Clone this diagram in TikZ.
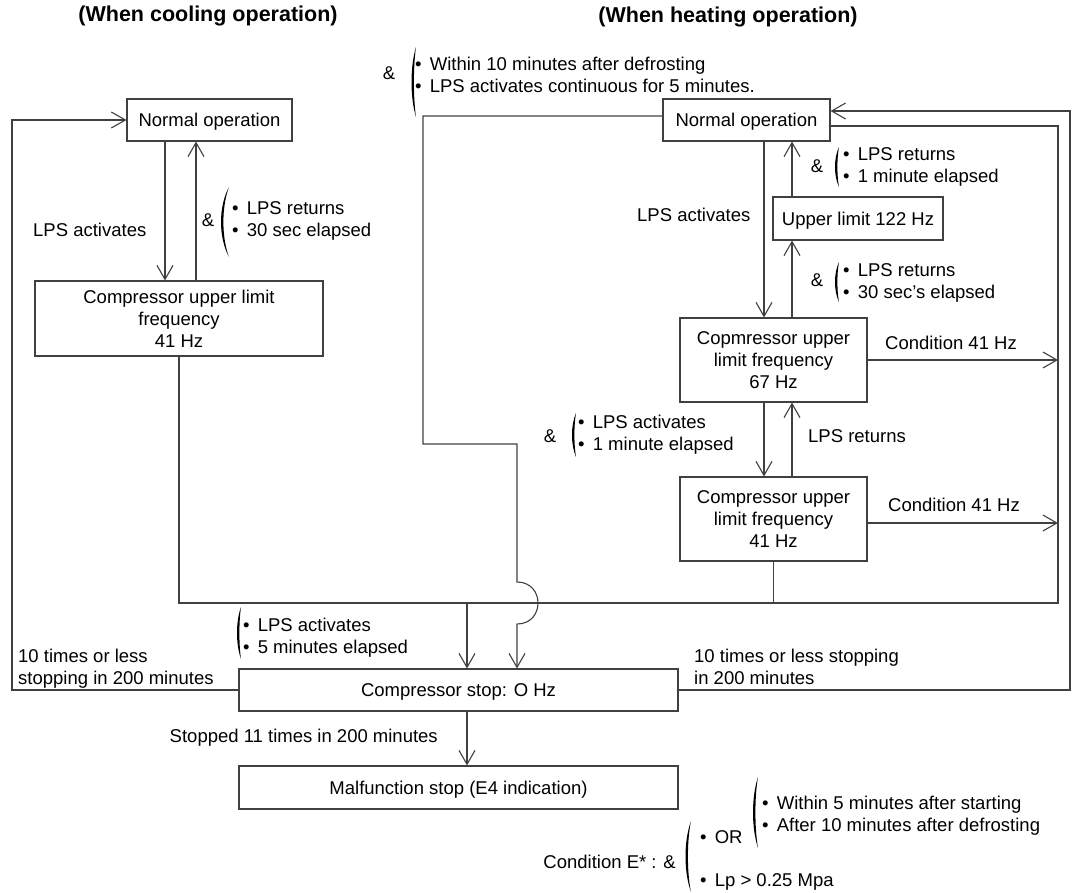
\documentclass[tikz,border=0pt]{standalone}
\usepackage{fontspec}
\setmainfont{Liberation Sans}
\usetikzlibrary{arrows.meta}
\definecolor{lc}{RGB}{64,64,64}
\newcommand\bl{•\hspace{3pt} }
\newcommand\bigparen[4]{%
  \fill[black] ({#1},{#2}) .. controls ({#1-4*#4/3},{#2+(#3-#2)*0.28}) and ({#1-4*#4/3},{#3-(#3-#2)*0.28}) .. ({#1},{#3})
   .. controls ({#1-4*(#4-2.4)/3},{#3-(#3-#2)*0.28}) and ({#1-4*(#4-2.4)/3},{#2+(#3-#2)*0.28}) .. ({#1},{#2});}
\begin{document}
\begin{tikzpicture}[x=1pt,y=-1pt,
  every node/.style={font=\fontsize{18.5}{22}\selectfont, inner sep=0pt},
  lbl/.style={text height=13.4pt,text depth=0pt},
  box/.style={draw=lc,line width=1.1pt,align=center},
  ln/.style={draw=lc,line width=1.1pt},
  arr/.style={-{Straight Barb[length=14pt,width=16pt]}},
  ttl/.style={font=\bfseries\fontsize{21.5}{25}\selectfont}
]
\useasboundingbox (0,0) rectangle (1076,892);
% titles
\node[ttl] (h1) at (208,16) {(When cooling operation)};
\node[ttl] (h2) at (728,17) {(When heating operation)};
% boxes
\node[box,lbl,minimum width=165pt,minimum height=42pt] (nc) at (209.5,120) {Normal operation};
\node[box,minimum width=288pt,minimum height=75pt] (cc) at (179,318.5) {Compressor upper limit\\frequency\\41 Hz};
\node[box,lbl,minimum width=167pt,minimum height=42pt] (nh) at (746.5,120) {Normal operation};
\node[box,lbl,minimum width=170pt,minimum height=43pt] (ul) at (858,218.5) {Upper limit 122 Hz};
\node[box,minimum width=187pt,minimum height=84pt] (c67) at (773.5,360) {Copmressor upper\\limit frequency\\67 Hz};
\node[box,minimum width=187pt,minimum height=84pt] (c41) at (773.5,519) {Compressor upper\\limit frequency\\41 Hz};
\node[box,lbl,minimum width=439pt,minimum height=42pt] (stop) at (458.5,690) {Compressor stop: O Hz};
\node[box,lbl,minimum width=439pt,minimum height=43pt] (mal) at (458.5,787.5) {Malfunction stop (E4 indication)};
% guide coordinates
\coordinate (xL) at (12,0);
\coordinate (xa) at (165,0);
\coordinate (xb) at (196,0);
\coordinate (xd) at (467,0);
\coordinate (xf) at (423,0);
\coordinate (xh1) at (764,0);
\coordinate (xh2) at (792,0);
\coordinate (xi) at (1058,0);
\coordinate (xo) at (1070,0);
\coordinate (hl) at (0,603);
\coordinate (jy) at (0,444);
\coordinate (j1) at (517,582);
\coordinate (j2) at (517,624);
\coordinate (nhl) at ([yshift=4pt]nh.west);
\coordinate (nht) at ([yshift=9pt]nh.east);
\coordinate (nhr) at ([yshift=-6pt]nh.east);
\coordinate (c41r) at ([yshift=-4pt]c41.east);
% cooling connectors
\draw[ln,arr] (stop.west) -- (stop.west -| xL) |- (nc.west);
\draw[ln,arr] (nc.south -| xa) -- (cc.north -| xa);
\draw[ln,arr] (cc.north -| xb) -- (nc.south -| xb);
\draw[ln] (cc.south) -- (cc.south |- hl) -- (hl -| xi) -- (nhr -| xi) -- (nhr);
\draw[ln,arr] (hl -| xd) -- (stop.north -| xd);
\draw[ln,arr] (stop.south -| xd) -- (mal.north -| xd);
% heating connectors
\draw[ln,arr] (nhl) -- (nhl -| xf) -- (xf |- jy) -- (jy -| j1) -- (j1) .. controls +(28,0) and +(28,0) .. (j2) -- (stop.north -| j2);
\draw[ln,arr] (stop.east) -- (stop.east -| xo) |- (nht);
\draw[ln,arr] (nh.south -| xh1) -- (c67.north -| xh1);
\draw[ln,arr] (c67.north -| xh2) -- (ul.south -| xh2);
\draw[ln,arr] (ul.north -| xh2) -- (nh.south -| xh2);
\draw[ln,arr] (c67.south -| xh1) -- (c41.north -| xh1);
\draw[ln,arr] (c41.north -| xh2) -- (c67.south -| xh2);
\draw[ln,arr] (c67.east) -- (c67.east -| xi);
\draw[ln,arr] (c41r) -- (c41r -| xi);
\draw[ln] (c41.south) -- (c41.south |- hl);
% labels
\node[lbl,anchor=west] (t1) at (33,230) {LPS activates};
\node[lbl] (a1) at (208,220) {\&};
\bigparen{229}{187}{257}{8}
\node[anchor=west,align=left] (b1) at (232,221) {\bl LPS returns\\\bl 30 sec elapsed};
\node[lbl] (a2) at (389,73) {\&};
\bigparen{416}{47}{117}{4.5}
\node[anchor=west,align=left] (b2) at (415,75) {\bl Within 10 minutes after defrosting\\\bl LPS activates continuous for 5 minutes.};
\node[lbl,anchor=west] (t2) at (637,215) {LPS activates};
\node[lbl] (a3) at (817,166) {\&};
\bigparen{839}{147}{187}{4}
\node[anchor=west,align=left] (b3) at (843,167) {\bl LPS returns\\\bl 1 minute elapsed};
\node[lbl] (a4) at (817,280) {\&};
\bigparen{839}{262}{302}{4}
\node[anchor=west,align=left] (b4) at (843,282.5) {\bl LPS returns\\\bl 30 sec’s elapsed};
\node[lbl,anchor=west] (t3) at (885,343) {Condition 41 Hz};
\node[lbl,anchor=west] (t4) at (888,505) {Condition 41 Hz};
\node[lbl,anchor=west] (t5) at (808,436) {LPS returns};
\node[lbl] (a5) at (550,436) {\&};
\bigparen{576}{413}{457}{4}
\node[anchor=west,align=left] (b5) at (578,435) {\bl LPS activates\\\bl 1 minute elapsed};
\bigparen{241}{607}{659}{4}
\node[anchor=west,align=left] (b6) at (243,637.5) {\bl LPS activates\\\bl 5 minutes elapsed};
\node[anchor=west,align=left] (t6) at (18,669) {10 times or less\\stopping in 200 minutes};
\node[anchor=west,align=left] (t7) at (694,667) {10 times or less stopping\\in 200 minutes};
\node[lbl,anchor=east] (t8) at (438,736) {Stopped 11 times in 200 minutes};
\node[lbl,anchor=east] (t9) at (676,862) {Condition E* : \&};
\bigparen{691}{821}{892}{5.5}
\node[lbl,anchor=west] (b7) at (700,837) {\bl OR};
\node[lbl,anchor=west] (b8) at (700,880) {\bl Lp > 0.25 Mpa};
\bigparen{758}{777}{848}{5}
\node[anchor=west,align=left] (b9) at (762,816) {\bl Within 5 minutes after starting\\\bl After 10 minutes after defrosting};
\end{tikzpicture}
\end{document}
